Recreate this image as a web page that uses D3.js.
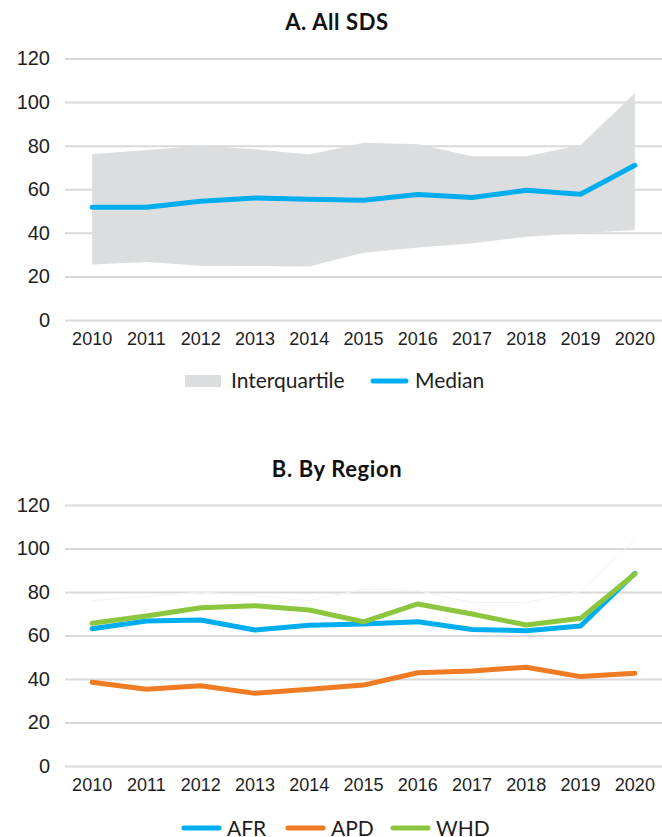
<!DOCTYPE html>
<html>
<head>
<meta charset="utf-8">
<script src="https://cdn.jsdelivr.net/npm/d3@7"></script>
<style>
  body { margin: 0; background: #fff; }
  svg { display: block; font-family: Lato, "Noto Sans", sans-serif; }
</style>
</head>
<body>
<svg id="chart" width="662" height="837"></svg>
<script>
// data
const years = [2010, 2011, 2012, 2013, 2014, 2015, 2016, 2017, 2018, 2019, 2020];
const median = [51.7, 51.7, 54.5, 56, 55.4, 55, 57.6, 56.2, 59.5, 57.7, 71];
const upperQ = [76.1, 78, 80, 78.3, 76, 81.3, 80.7, 75.2, 75.2, 80.3, 104];
const lowerQ = [25.5, 26.6, 24.9, 24.8, 24.5, 30.9, 33.3, 35.2, 38.2, 39.8, 41.3];
const afr = [63.1, 66.7, 67.1, 62.5, 64.7, 65.3, 66.3, 62.8, 62.2, 64.4, 88.6];
const apd = [38.5, 35.3, 36.9, 33.4, 35.3, 37.2, 42.9, 43.7, 45.4, 41.1, 42.6];
const whd = [65.6, 69, 72.8, 73.7, 71.7, 66.3, 74.5, 69.9, 64.8, 67.9, 88.3];
const yTicks = [0, 20, 40, 60, 80, 100, 120];

const COLORS = { blue: "#00aeef", orange: "#ef7b22", green: "#8cc63f", band: "#dcdddf", grid: "#d9d9d9", text: "#1e1e1e" };
const plot = { left: 65, right: 662 };

const svg = d3.select("#chart");

const x = d3.scaleBand().domain(years).range([plot.left, plot.right]);
const cx = d => x(d) + x.bandwidth() / 2;

// draws the title, gridlines and axis labels, returns the y scale
const drawFrame = (g, title, titleY, top, bottom) => {
  const y = d3.scaleLinear().domain([0, 120]).range([bottom, top]);

  g.append("text")
    .attr("x", 337).attr("y", titleY)
    .attr("text-anchor", "middle")
    .attr("font-size", 22).attr("font-weight", "bold")
    .attr("letter-spacing", 0.6)
    .attr("fill", "#111")
    .text(title);

  const yAxis = g.append("g")
    .classed("grid", true)
    .attr("transform", `translate(${plot.left},0)`)
    .call(d3.axisLeft(y).tickValues(yTicks).tickSize(-(plot.right - plot.left)).tickPadding(15));
  yAxis.select(".domain").remove();
  yAxis.selectAll(".tick line").attr("stroke", COLORS.grid).attr("stroke-width", 2);
  yAxis.selectAll(".tick text").attr("font-size", 20).attr("fill", COLORS.text).attr("font-family", "inherit");

  const xAxis = g.append("g")
    .attr("transform", `translate(0,${bottom})`)
    .call(d3.axisBottom(x).tickSize(0).tickPadding(12));
  xAxis.select(".domain").remove();
  xAxis.selectAll(".tick text").attr("font-size", 18).attr("fill", COLORS.text).attr("font-family", "inherit");

  return y;
};

// ---- Panel A
const gA = svg.append("g");
const yA = drawFrame(gA, "A. All SDS", 30, 58.5, 320);

// band sits over the gridlines
gA.append("path")
  .datum(years.map((d, i) => ({ year: d, lo: lowerQ[i], hi: upperQ[i] })))
  .attr("fill", COLORS.band)
  .attr("d", d3.area().x(d => cx(d.year)).y0(d => yA(d.lo)).y1(d => yA(d.hi)));

gA.append("path")
  .datum(median)
  .attr("fill", "none")
  .attr("stroke", COLORS.blue)
  .attr("stroke-width", 5)
  .attr("stroke-linejoin", "round")
  .attr("stroke-linecap", "round")
  .attr("d", d3.line().x((d, i) => cx(years[i])).y(d => yA(d)));

// legend A
const legA = gA.append("g").attr("font-size", 21).attr("fill", COLORS.text);
legA.append("rect").attr("x", 185).attr("y", 375).attr("width", 36).attr("height", 12).attr("fill", COLORS.band);
legA.append("text").attr("x", 231).attr("y", 388).text("Interquartile");
legA.append("line").attr("x1", 373).attr("x2", 406).attr("y1", 381).attr("y2", 381)
  .attr("stroke", COLORS.blue).attr("stroke-width", 5).attr("stroke-linecap", "round");
legA.append("text").attr("x", 415).attr("y", 388).text("Median");

// ---- Panel B
const gB = svg.append("g");
const yB = drawFrame(gB, "B. By Region", 477, 505, 766);

// faint ghost of the upper quartile line
gB.append("path")
  .datum(upperQ)
  .attr("fill", "none")
  .attr("stroke", "#f3f3f3")
  .attr("stroke-width", 1)
  .attr("d", d3.line().x((d, i) => cx(years[i])).y(d => yB(d)));

const series = [
  { name: "AFR", values: afr, color: COLORS.blue },
  { name: "APD", values: apd, color: COLORS.orange },
  { name: "WHD", values: whd, color: COLORS.green }
];

gB.selectAll(".region")
  .data(series)
  .join("path")
  .classed("region", true)
  .attr("fill", "none")
  .attr("stroke", d => d.color)
  .attr("stroke-width", 5)
  .attr("stroke-linejoin", "round")
  .attr("stroke-linecap", "round")
  .attr("d", d => d3.line().x((v, i) => cx(years[i])).y(v => yB(v))(d.values));

// legend B
const legX = [184, 288, 393];
const legB = gB.append("g").attr("font-size", 21).attr("fill", COLORS.text);
series.forEach((s, i) => {
  legB.append("line").attr("x1", legX[i]).attr("x2", legX[i] + 35).attr("y1", 828).attr("y2", 828)
    .attr("stroke", s.color).attr("stroke-width", 5).attr("stroke-linecap", "round");
  legB.append("text").attr("x", legX[i] + 43).attr("y", 836).text(s.name);
});
</script>
</body>
</html>
